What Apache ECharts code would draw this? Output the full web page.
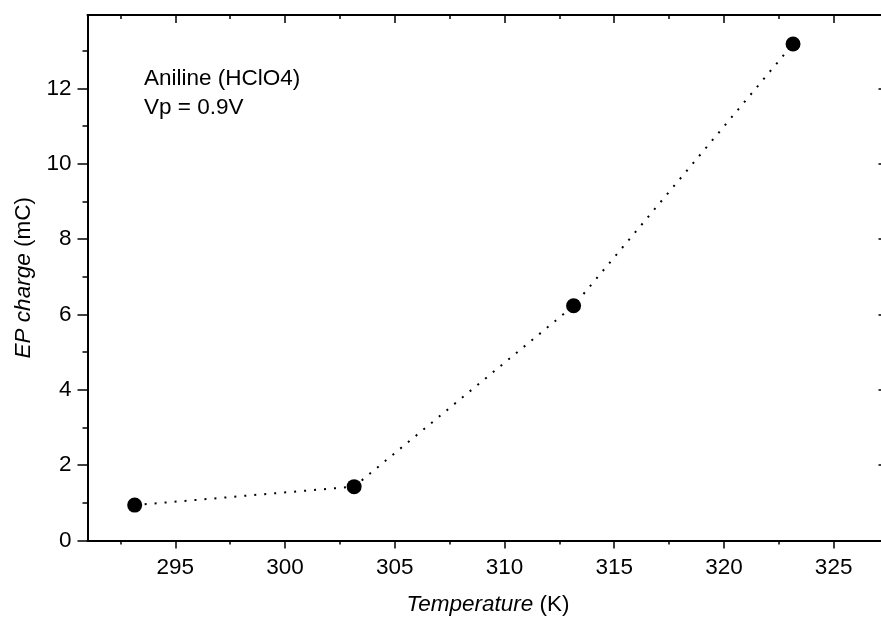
<!DOCTYPE html>
<html>
<head>
<meta charset="utf-8">
<style>
    html, body { margin: 0; padding: 0; background: #fff; }
    #ep-chart { width: 881px; height: 617px; }
</style>
<script src="https://cdn.jsdelivr.net/npm/echarts@6/dist/echarts.min.js"></script>
</head>
<body>
<div id="ep-chart"></div>
<script>
    // measured values
    var temperature = [293.15, 303.15, 313.15, 323.15];
    var epCharge = [0.94, 1.43, 6.23, 13.18];

    // tick labels
    var xMajorTicks = [295, 300, 305, 310, 315, 320, 325];
    var xMinorTicks = [292.5, 297.5, 302.5, 307.5, 312.5, 317.5, 322.5];
    var yMajorTicks = [0, 2, 4, 6, 8, 10, 12];
    var yMinorTicks = [1, 3, 5, 7, 9, 11, 13];

    var font = "'Liberation Sans', Arial, sans-serif";
    var black = '#000';
    var fs = 22.5;

    // one axis = one set of ticks (major or minor), so lengths can differ
    function makeAxis(pos, range, ticks, len, inside, labels, line) {
        return {
            type: 'value', position: pos, min: range[0], max: range[1],
            axisLine: { show: line, onZero: false, lineStyle: { color: black, width: 2 } },
            axisTick: { show: true, inside: inside, length: len, customValues: ticks,
                lineStyle: { color: black, width: 1.5 } },
            axisLabel: { show: labels, customValues: ticks, margin: 16,
                color: black, fontSize: fs, fontFamily: font },
            splitLine: { show: false }
        };
    }

    var xRange = [291, 327.5];
    var yRange = [0, 13.95];

    var nameStyle = {
        color: black, fontSize: fs, fontFamily: font,
        rich: { i: { fontStyle: 'italic', fontSize: fs, fontFamily: font, color: black },
                n: { fontSize: fs, fontFamily: font, color: black } }
    };

    var xAxes = [
        makeAxis('bottom', xRange, xMajorTicks, 8, false, true, true),
        makeAxis('bottom', xRange, xMinorTicks, 4, false, false, false),
        makeAxis('top', xRange, xMajorTicks, 8, true, false, true),
        makeAxis('top', xRange, xMinorTicks, 4, true, false, false)
    ];
    xAxes[0].name = '{i|Temperature} {n|(K)}';
    xAxes[0].nameLocation = 'middle';
    xAxes[0].nameGap = 53;
    xAxes[0].nameTextStyle = nameStyle;

    var yAxes = [
        makeAxis('left', yRange, yMajorTicks, 10, false, true, true),
        makeAxis('left', yRange, yMinorTicks, 5, false, false, false),
        makeAxis('right', yRange, yMajorTicks, 10, true, false, true),
        makeAxis('right', yRange, yMinorTicks, 5, true, false, false)
    ];
    yAxes[0].name = '{i|EP charge} {n|(mC)}';
    yAxes[0].nameLocation = 'middle';
    yAxes[0].nameGap = 47;
    yAxes[0].nameTextStyle = nameStyle;

    var myChart = echarts.init(document.getElementById('ep-chart'));
    myChart.setOption({
        animation: false,
        backgroundColor: '#fff',
        // right frame sits just past the window edge in the original
        grid: { left: 87.5, width: 801, top: 15, height: 525.5,
            containLabel: false, outerBoundsMode: 'none' },
        xAxis: xAxes,
        yAxis: yAxes,
        graphic: [{
            type: 'text', left: 144, top: 65,
            style: { text: 'Aniline (HClO4)\nVp = 0.9V', fill: black,
                font: fs + 'px ' + font, lineHeight: 28.4 }
        }],
        series: [{
            type: 'line',
            data: temperature.map(function (t, i) { return [t, epCharge[i]]; }),
            symbol: 'circle',
            symbolSize: 15,
            itemStyle: { color: black },
            lineStyle: { color: black, width: 2, type: [2, 8] }
        }]
    });
</script>
</body>
</html>
